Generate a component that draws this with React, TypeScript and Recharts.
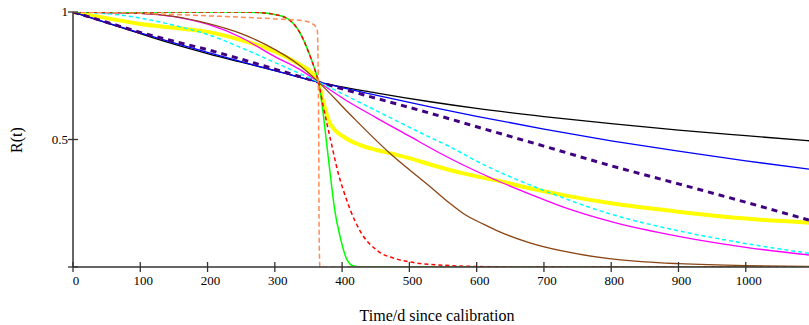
import { LineChart, Line, XAxis, YAxis } from "recharts";

// [t in days, R(t)]
const black = [[0, 1], [50, 0.957], [100, 0.915], [150, 0.874], [200, 0.837], [250, 0.803], [300, 0.77], [365, 0.725], [450, 0.683], [531, 0.648], [600, 0.622], [700, 0.59], [800, 0.562], [900, 0.537], [1000, 0.515], [1094, 0.495]];
const blue = [[0, 1], [50, 0.958], [100, 0.918], [150, 0.879], [200, 0.842], [250, 0.805], [300, 0.77], [365, 0.725], [450, 0.674], [531, 0.628], [600, 0.591], [700, 0.541], [800, 0.495], [900, 0.454], [1000, 0.416], [1094, 0.384]];
const indigo = [[0, 1], [50, 0.96], [100, 0.92], [150, 0.885], [200, 0.852], [250, 0.815], [300, 0.776], [365, 0.725], [450, 0.662], [531, 0.603], [600, 0.55], [700, 0.474], [800, 0.397], [900, 0.326], [1000, 0.254], [1094, 0.184]];
const cyan = [[0, 1], [50, 0.994], [100, 0.976], [150, 0.948], [200, 0.912], [250, 0.86], [300, 0.802], [365, 0.725], [450, 0.614], [531, 0.508], [560, 0.472], [600, 0.415], [700, 0.3], [800, 0.207], [900, 0.142], [1000, 0.092], [1094, 0.054]];
const magenta = [[0, 1], [100, 0.995], [150, 0.982], [200, 0.952], [250, 0.9], [300, 0.825], [337, 0.775], [365, 0.725], [402, 0.66], [451, 0.585], [500, 0.513], [545, 0.447], [580, 0.4], [625, 0.345], [680, 0.285], [729, 0.235], [800, 0.178], [900, 0.12], [1000, 0.077], [1094, 0.047]];
const brown = [[0, 1], [100, 0.995], [150, 0.983], [200, 0.955], [250, 0.915], [288, 0.87], [337, 0.79], [365, 0.725], [412, 0.598], [471, 0.446], [531, 0.315], [560, 0.25], [580, 0.21], [610, 0.168], [630, 0.143], [679, 0.095], [729, 0.062], [800, 0.032], [850, 0.02], [900, 0.013], [1000, 0.005], [1094, 0.002]];
const yellow = [[0, 1], [50, 0.976], [100, 0.953], [150, 0.938], [200, 0.922], [250, 0.89], [300, 0.845], [333, 0.8], [352, 0.768], [365, 0.725], [370, 0.668], [382, 0.563], [402, 0.511], [427, 0.478], [451, 0.459], [476, 0.443], [501, 0.426], [531, 0.402], [580, 0.367], [630, 0.339], [679, 0.309], [729, 0.282], [800, 0.25], [900, 0.217], [1000, 0.19], [1094, 0.174]];
const green = [[0, 1], [250, 1], [280, 0.997], [300, 0.99], [320, 0.972], [337, 0.92], [352, 0.83], [360, 0.77], [365, 0.725], [371, 0.62], [377, 0.485], [383, 0.35], [389, 0.224], [397, 0.119], [407, 0.03], [417, 0.004], [430, 0], [1094, 0]];
const red = [[0, 1], [250, 1], [280, 0.997], [300, 0.99], [320, 0.972], [337, 0.92], [352, 0.83], [360, 0.77], [365, 0.725], [372, 0.63], [384, 0.485], [395, 0.36], [402, 0.3], [412, 0.225], [427, 0.14], [452, 0.065], [480, 0.032], [500, 0.02], [550, 0.007], [600, 0.002], [650, 0], [1094, 0]];
const orange = [[0, 1], [100, 0.995], [200, 0.985], [300, 0.973], [342, 0.966], [355, 0.955], [360, 0.945], [363, 0.93], [364, 0.85], [365, 0.6], [366, 0.1], [367, 0], [1094, 0]];

const xTicks = [0, 100, 200, 300, 400, 500, 600, 700, 800, 900, 1000];
const yTicks = [0, 0.5, 1];

const pts = (rows: number[][]) => rows.map(([t, r]) => ({ t, r }));

const series = [
  { name: "yellow", rows: yellow, color: "#ffff00", width: 4, dash: undefined },
  { name: "black", rows: black, color: "#000000", width: 1.3, dash: undefined },
  { name: "blue", rows: blue, color: "#0000ff", width: 1.3, dash: undefined },
  { name: "indigo", rows: indigo, color: "#400080", width: 3, dash: "6 5" },
  { name: "magenta", rows: magenta, color: "#ff00ff", width: 1.3, dash: undefined },
  { name: "cyan", rows: cyan, color: "#00ffff", width: 1.5, dash: "4 3" },
  { name: "brown", rows: brown, color: "#8b4513", width: 1.3, dash: undefined },
  { name: "green", rows: green, color: "#00ff00", width: 1.5, dash: undefined },
  { name: "red", rows: red, color: "#ff0000", width: 1.5, dash: "4 3" },
  { name: "orange", rows: orange, color: "#ff8c55", width: 1.5, dash: "5 3" },
];

const FONT = '"Liberation Serif", "Times New Roman", serif';
const AXIS = "#333333";

const XTick = ({ x, y, payload }: any) => (
  <g>
    <line x1={x} x2={x} y1={y - 5} y2={y + 5} stroke={AXIS} strokeWidth={1.3} />
    <text x={x + 3} y={y + 18} textAnchor="middle" fontFamily={FONT} fontSize={13} fill="#000">
      {payload.value}
    </text>
  </g>
);

const YTick = ({ x, y, payload }: any) => (
  <g>
    <line x1={x - 5} x2={x + 5} y1={y} y2={y} stroke={AXIS} strokeWidth={1.3} />
    {payload.value !== 0 && (
      <text x={x - 5} y={y + 4} textAnchor="end" fontFamily={FONT} fontSize={13} fill="#000">
        {payload.value}
      </text>
    )}
  </g>
);

export default function App() {
  return (
    <div style={{ position: "absolute", left: 0, top: 0, width: 809, height: 325, background: "#fff" }}>
      <LineChart width={809} height={325} margin={{ top: 12, right: 0, bottom: 0, left: 0 }}>
        <XAxis
          dataKey="t"
          type="number"
          domain={[0, 1094]}
          ticks={xTicks}
          interval={0}
          allowDataOverflow
          height={58}
          tickSize={0}
          tickMargin={0}
          tick={<XTick />}
          tickLine={false}
          axisLine={{ stroke: AXIS, strokeWidth: 1.5 }}
          label={{
            content: () => (
              <text x={437} y={321} textAnchor="middle" fontFamily={FONT} fontSize={16} fill="#000">
                Time/d since calibration
              </text>
            ),
          }}
        />
        <YAxis
          type="number"
          domain={[0, 1]}
          ticks={yTicks}
          interval={0}
          allowDataOverflow
          width={73}
          tickSize={0}
          tickMargin={0}
          tick={<YTick />}
          tickLine={false}
          axisLine={{ stroke: AXIS, strokeWidth: 1.5 }}
          label={{
            content: () => (
              <text x={22} y={140} transform="rotate(-90 22 140)" textAnchor="middle" fontFamily={FONT} fontSize={16} fill="#000">
                R(t)
              </text>
            ),
          }}
        />
        {series.map((s) => (
          <Line
            key={s.name}
            data={pts(s.rows)}
            dataKey="r"
            type="monotone"
            stroke={s.color}
            strokeWidth={s.width}
            strokeDasharray={s.dash}
            dot={false}
            activeDot={false}
            isAnimationActive={false}
          />
        ))}
      </LineChart>
    </div>
  );
}
